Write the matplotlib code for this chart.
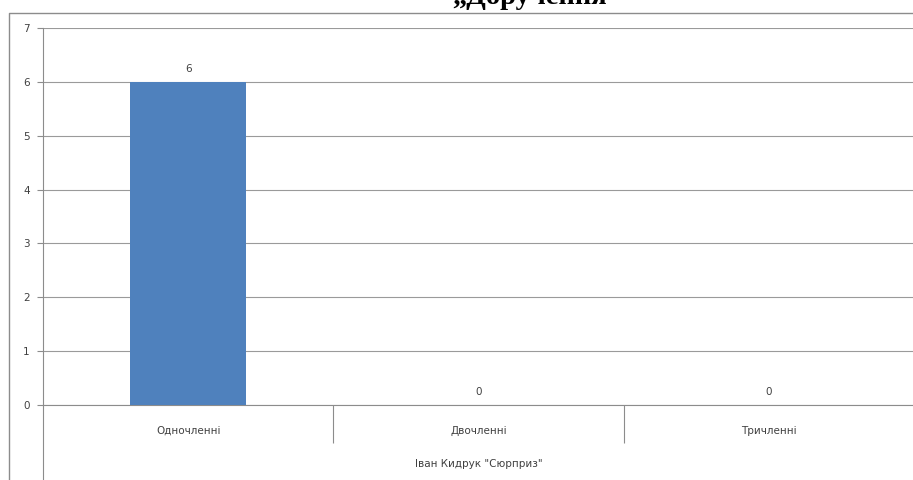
import matplotlib
matplotlib.use("Agg")
import matplotlib.pyplot as plt
from matplotlib.lines import Line2D

categories = ["Одночленні", "Двочленні", "Тричленні"]
values = [6, 0, 0]
y_ticks = [0, 1, 2, 3, 4, 5, 6, 7]
x_axis_title = 'Іван Кидрук "Сюрприз"'
chart_title = "„Доручення"

W, H = 913, 480
fig = plt.figure(figsize=(W / 100, H / 100), dpi=100)
fig.patch.set_facecolor("white")

axis_gray = "#8c8c8c"
grid_gray = "#9a9a9a"
text_gray = "#404040"
bar_blue = "#4f81bd"

left_px, right_px = 43, 914
top_px, bottom_px = 28, 405
ax = fig.add_axes([left_px / W, (H - bottom_px) / H,
                   (right_px - left_px) / W, (bottom_px - top_px) / H])

x = list(range(len(categories)))
bars = ax.bar(x, values, width=0.4, color=bar_blue, zorder=3)
for xi, v in zip(x, values):
    ax.text(xi, v + 0.15, str(v), ha="center", va="bottom",
            fontsize=7.5, color=text_gray, family="DejaVu Sans")

ax.set_xlim(-0.5, len(categories) - 0.5)
ax.set_ylim(0, 7)
ax.set_yticks(y_ticks)
ax.set_yticklabels([str(t) for t in y_ticks], fontsize=7.5, color=text_gray)
ax.tick_params(axis="y", direction="out", length=4.5, width=0.8,
               color=axis_gray, pad=5)

ax.set_xticks(x)
ax.set_xticklabels(categories, fontsize=7.5, color=text_gray)
ax.set_xticks([i + 0.5 for i in x[:-1]], minor=True)
ax.tick_params(axis="x", which="major", length=0, pad=15)
ax.tick_params(axis="x", which="minor", direction="out", length=27.5,
               width=0.8, color=axis_gray)

ax.grid(axis="y", color=grid_gray, linewidth=0.8, zorder=0)
for side in ["top", "right"]:
    ax.spines[side].set_visible(False)
for side in ["left", "bottom"]:
    ax.spines[side].set_color(axis_gray)
    ax.spines[side].set_linewidth(0.8)

ax.set_xlabel(x_axis_title, fontsize=7.5, color=text_gray, labelpad=8)

# vertical axis line continues below the plot area
fig.add_artist(Line2D([left_px / W, left_px / W], [0, (H - bottom_px) / H],
                      transform=fig.transFigure, color=axis_gray, lw=0.8))

# outer chart frame
frame_x, frame_y = 9 / W, (H - 13) / H
fig.add_artist(Line2D([frame_x, frame_x, 1.0], [0, frame_y, frame_y],
                      transform=fig.transFigure, color=axis_gray, lw=1.0))

fig.text(529 / W, (H - 4) / H, chart_title, ha="center", va="baseline",
         fontsize=20.5, fontweight="bold", family="Liberation Serif")

fig.savefig("out.png", dpi=100)
